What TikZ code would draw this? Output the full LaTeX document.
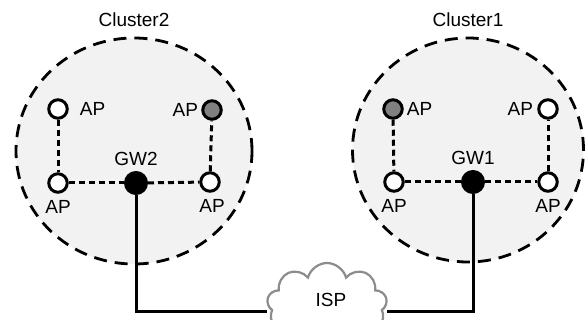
\documentclass[tikz,border=0pt]{standalone}
\usepackage{fontspec}
\setmainfont{Liberation Sans}
\usetikzlibrary{shapes.geometric,shapes.symbols}

\begin{document}
\begin{tikzpicture}[x=1pt,y=-1pt,
  font=\fontsize{19}{22}\selectfont,
  cluster/.style={ellipse,draw,line width=2.8pt,dash pattern=on 13pt off 8pt,fill=black!5},
  ap/.style={circle,draw,line width=3pt,fill=white,minimum size=18.5pt,inner sep=0pt},
  apgray/.style={ap,fill=black!50},
  gw/.style={ap,fill=black,minimum size=21pt},
  link/.style={line width=3pt,dash pattern=on 6pt off 4pt},
  wire/.style={line width=3pt},
  every label/.style={inner sep=1pt}]
\useasboundingbox (0,0) rectangle (585,320);
% clusters
\node[cluster,minimum width=236pt,minimum height=226pt,label={[label distance=9pt]above:Cluster2}] (cluster2) at (134,151) {};
\node[cluster,minimum width=231pt,minimum height=224pt,label={[label distance=9pt]above:Cluster1}] (cluster1) at (468,150) {};
% cluster 2
\node[ap,label={[label distance=10pt]right:AP}] (c2ap1) at (58,109) {};
\node[apgray,label={[label distance=2pt]left:AP}] (c2ap2) at (212,110) {};
\node[ap,label={[label distance=5pt]below:AP}] (c2ap3) at (58,183) {};
\node[gw,label={[label distance=4pt]above:GW2}] (gw2) at (136,183) {};
\node[ap,label={[label distance=5pt,xshift=2pt]below:AP}] (c2ap4) at (210,182) {};
\draw[link] (c2ap1) -- (c2ap3);
\draw[link] (c2ap3) -- (gw2);
\draw[link] (gw2) -- (c2ap4);
\draw[link] (c2ap4) -- (c2ap2);
% cluster 1
\node[apgray,label={[label distance=2pt]right:AP}] (c1ap1) at (393,109) {};
\node[ap,label={[label distance=3pt]left:AP}] (c1ap2) at (548,109) {};
\node[ap,label={[label distance=5pt]below:AP}] (c1ap3) at (394,182) {};
\node[gw,label={[label distance=4pt]above:GW1}] (gw1) at (473,182) {};
\node[ap,label={[label distance=5pt]below:AP}] (c1ap4) at (548,182) {};
\draw[link] (c1ap1) -- (c1ap3);
\draw[link] (c1ap3) -- (gw1);
\draw[link] (gw1) -- (c1ap4);
\draw[link] (c1ap4) -- (c1ap2);
% internet
\node[cloud,draw=black!45,line width=2.2pt,fill=white,cloud puffs=9,aspect=1.8,minimum width=120pt,minimum height=84pt,inner sep=0pt] (isp) at (327,305) {};
\node (isplabel) at (331,300) {ISP};
\draw[wire] (gw2) |- ([yshift=-6pt]isp.west);
\draw[wire] (gw1) |- ([yshift=-6pt]isp.east);
\end{tikzpicture}
\end{document}
